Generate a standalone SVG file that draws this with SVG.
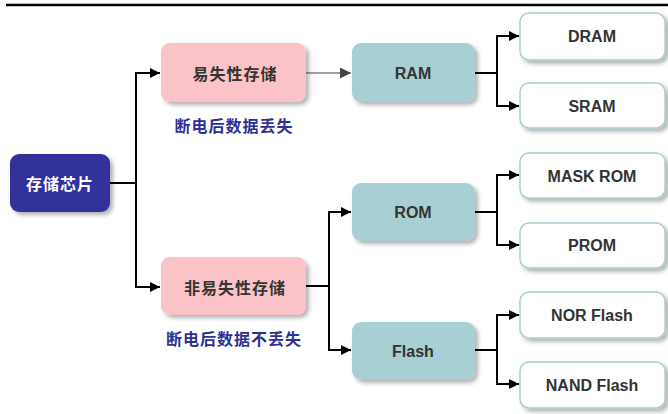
<svg xmlns="http://www.w3.org/2000/svg" width="668" height="414" viewBox="0 0 668 414">
<style>
.zh{font-family:"Noto Sans CJK SC","Noto Sans",sans-serif;font-weight:bold;font-size:16px;letter-spacing:1px;text-anchor:middle;dominant-baseline:central}
.en{font-family:"Liberation Sans",Arial,sans-serif;font-weight:bold;font-size:16px;fill:#333;text-anchor:middle;dominant-baseline:central}
.pink{fill:#fbc3c8}
.teal{fill:#a8d0d4}
.leaf{fill:#fff;stroke:#a8d0d4;stroke-width:1.5}
.c{fill:none;stroke:#000;stroke-width:2}
.cg{fill:none;stroke:#444;stroke-width:1.2}
</style>
<defs>
<filter id="sh" x="-20%" y="-20%" width="150%" height="160%">
<feDropShadow dx="3" dy="3" stdDeviation="2" flood-color="#000" flood-opacity="0.3"/>
</filter>
<marker id="ah" viewBox="0 0 10 10" refX="10" refY="5" markerWidth="10" markerHeight="10" markerUnits="userSpaceOnUse" orient="auto">
<path d="M0,0 L10,5 L0,10 z" fill="#000"/>
</marker>
<marker id="ahg" viewBox="0 0 10 10" refX="10" refY="5" markerWidth="11" markerHeight="11" markerUnits="userSpaceOnUse" orient="auto">
<path d="M0,0 L10,5 L0,10 z" fill="#444"/>
</marker>
</defs>
<rect width="668" height="414" fill="#fff"/>
<line x1="6" y1="5" x2="668" y2="5" stroke="#000" stroke-width="2.5"/>

<g id="connectors">
<path class="c" d="M110,183 H136 V73 H160" marker-end="url(#ah)"/>
<path class="c" d="M136,183 V287 H160" marker-end="url(#ah)"/>
<path class="cg" d="M306,73 H351" marker-end="url(#ahg)"/>
<path class="c" d="M306,286 H329 V212 H351" marker-end="url(#ah)"/>
<path class="c" d="M329,286 V350 H351" marker-end="url(#ah)"/>
<path class="c" d="M475,73 H497 V36 H519" marker-end="url(#ah)"/>
<path class="c" d="M497,73 V106 H519" marker-end="url(#ah)"/>
<path class="c" d="M475,212 H497 V175 H519" marker-end="url(#ah)"/>
<path class="c" d="M497,212 V245 H519" marker-end="url(#ah)"/>
<path class="c" d="M475,350 H497 V315 H519" marker-end="url(#ah)"/>
<path class="c" d="M497,350 V384 H519" marker-end="url(#ah)"/>
</g>

<g id="root">
<rect x="10" y="154" width="100" height="58" rx="9" fill="#33339a" filter="url(#sh)"/>
<text class="zh" x="60" y="183" fill="#fff">存储芯片</text>
</g>

<g id="volatile">
<rect x="161" y="43" width="145" height="59" rx="9" class="pink" filter="url(#sh)"/>
<text class="zh" x="235" y="73" fill="#333">易失性存储</text>
</g>
<g id="volatile-note">
<text class="zh" x="234" y="125" fill="#2e3192">断电后数据丢失</text>
</g>

<g id="nonvolatile">
<rect x="161" y="257" width="145" height="58" rx="9" class="pink" filter="url(#sh)"/>
<text class="zh" x="235" y="287" fill="#333">非易失性存储</text>
</g>
<g id="nonvolatile-note">
<text class="zh" x="234" y="338" fill="#2e3192">断电后数据不丢失</text>
</g>

<g id="ram">
<rect x="352" y="43" width="123" height="59" rx="9" class="teal" filter="url(#sh)"/>
<text class="en" x="413" y="73">RAM</text>
</g>
<g id="rom">
<rect x="352" y="183" width="123" height="58" rx="9" class="teal" filter="url(#sh)"/>
<text class="en" x="413" y="212">ROM</text>
</g>
<g id="flash">
<rect x="352" y="322" width="123" height="58" rx="9" class="teal" filter="url(#sh)"/>
<text class="en" x="413" y="351">Flash</text>
</g>

<g id="dram">
<rect x="520" y="13" width="145" height="47" rx="9" class="leaf" filter="url(#sh)"/>
<text class="en" x="592" y="36">DRAM</text>
</g>
<g id="sram">
<rect x="520" y="83" width="145" height="45" rx="9" class="leaf" filter="url(#sh)"/>
<text class="en" x="592" y="106">SRAM</text>
</g>
<g id="maskrom">
<rect x="520" y="153" width="145" height="45" rx="9" class="leaf" filter="url(#sh)"/>
<text class="en" x="592" y="176">MASK ROM</text>
</g>
<g id="prom">
<rect x="520" y="223" width="145" height="45" rx="9" class="leaf" filter="url(#sh)"/>
<text class="en" x="592" y="245">PROM</text>
</g>
<g id="norflash">
<rect x="520" y="292" width="145" height="46" rx="9" class="leaf" filter="url(#sh)"/>
<text class="en" x="592" y="315">NOR Flash</text>
</g>
<g id="nandflash">
<rect x="520" y="362" width="145" height="46" rx="9" class="leaf" filter="url(#sh)"/>
<text class="en" x="592" y="385">NAND Flash</text>
</g>
</svg>
